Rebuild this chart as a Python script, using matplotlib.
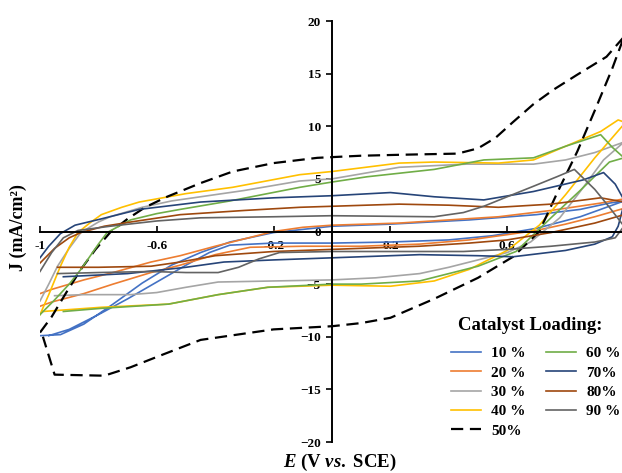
import matplotlib
matplotlib.use("Agg")
import matplotlib.pyplot as plt

plt.rcParams['font.family'] = ['Liberation Serif', 'DejaVu Serif']
plt.rcParams['font.weight'] = 'bold'
plt.rcParams['mathtext.fontset'] = 'custom'
plt.rcParams['mathtext.it'] = 'Liberation Serif:italic:bold'
plt.rcParams['mathtext.rm'] = 'Liberation Serif:bold'

# CV loops: forward scan (-1 -> 1) then reverse scan (1 -> -1)
e_10 = [-1.0, -0.93, -0.85, -0.75, -0.65, -0.55, -0.45, -0.35, -0.2, 0.0, 0.2, 0.47, 0.7, 0.85, 0.95, 1.0,
        1.0, 0.95, 0.85, 0.7, 0.55, 0.4, 0.2, 0.0, -0.2, -0.35, -0.42, -0.5, -0.6, -0.7, -0.8, -0.9, -0.97]
j_10 = [-9.9, -9.8, -8.8, -6.9, -4.9, -3.2, -2.0, -1.0, -0.1, 0.5, 0.7, 1.1, 1.6, 2.1, 2.7, 2.9,
        2.9, 2.4, 1.4, 0.3, -0.4, -0.8, -1.0, -1.1, -1.1, -1.3, -2.0, -3.2, -4.8, -6.4, -7.9, -9.3, -9.9]

e_20 = [-1.0, -0.96, -0.85, -0.75, -0.62, -0.52, -0.4, -0.3, -0.2, -0.1, 0.0, 0.23, 0.4, 0.57, 0.75, 0.92, 1.0,
        1.0, 0.9, 0.8, 0.7, 0.6, 0.47, 0.3, 0.1, -0.1, -0.28, -0.4, -0.52, -0.62, -0.75, -0.85, -0.96, -1.0]
j_20 = [-5.9, -5.5, -4.6, -3.9, -2.9, -2.3, -1.4, -0.7, 0.0, 0.4, 0.6, 0.8, 1.1, 1.4, 2.0, 2.7, 3.1,
        2.2, 1.4, 0.7, 0.1, -0.3, -0.8, -1.2, -1.4, -1.4, -1.5, -2.2, -3.2, -3.9, -5.0, -5.9, -6.7, -7.1]

e_30 = [-1.0, -0.97, -0.94, -0.9, -0.86, -0.8, -0.76, -0.65, -0.55, -0.45, -0.3, -0.11, 0.0, 0.23, 0.46, 0.69, 0.8, 0.9, 1.0,
        1.0, 0.93, 0.85, 0.78, 0.68, 0.6, 0.5, 0.4, 0.3, 0.15, 0.0, -0.2, -0.39, -0.5, -0.6, -0.69, -0.85, -0.95]
j_30 = [-6.6, -5.0, -3.3, -1.6, -0.1, 0.9, 1.4, 2.3, 2.9, 3.3, 3.9, 4.8, 5.0, 6.1, 6.4, 6.4, 6.8, 7.5, 8.5,
        8.5, 6.8, 3.8, 1.3, -1.0, -2.0, -2.7, -3.4, -4.0, -4.4, -4.6, -4.7, -4.8, -5.3, -5.8, -6.0, -6.0, -6.1]

e_40 = [-1.0, -0.97, -0.93, -0.9, -0.87, -0.83, -0.79, -0.72, -0.66, -0.5, -0.34, -0.11, 0.0, 0.23, 0.35, 0.57, 0.69, 0.8, 0.92, 0.98, 1.0,
        1.0, 0.9, 0.8, 0.71, 0.6, 0.47, 0.35, 0.2, 0.0, -0.22, -0.39, -0.56, -0.79, -0.99]
j_40 = [-7.9, -6.0, -3.3, -1.5, -0.1, 0.8, 1.6, 2.3, 2.8, 3.6, 4.2, 5.4, 5.7, 6.5, 6.6, 6.5, 6.8, 8.1, 9.5, 10.6, 10.4,
        10.2, 7.0, 3.5, 0.6, -1.8, -3.6, -4.7, -5.2, -5.1, -5.3, -6.0, -6.9, -7.2, -7.6]

e_50 = [-1.0, -0.96, -0.91, -0.86, -0.81, -0.76, -0.7, -0.64, -0.565, -0.45, -0.34, -0.2, -0.05, 0.1, 0.25, 0.43, 0.5, 0.56, 0.62, 0.69, 0.76, 0.84, 0.94, 1.0,
        0.96, 0.9, 0.84, 0.77, 0.71, 0.62, 0.5, 0.35, 0.2, 0.1, 0.0, -0.2, -0.45, -0.58, -0.69, -0.78, -0.95, -0.99]
j_50 = [-9.6, -8.1, -5.8, -3.6, -1.7, -0.1, 1.2, 2.3, 3.3, 4.6, 5.7, 6.5, 7.0, 7.2, 7.3, 7.4, 7.9, 8.9, 10.4, 12.1, 13.5, 14.9, 16.6, 18.5,
        15.5, 11.5, 7.6, 3.6, 0.0, -2.4, -4.4, -6.4, -8.2, -8.7, -9.0, -9.3, -10.3, -11.7, -12.9, -13.7, -13.6, -10.0]

e_60 = [-1.0, -0.95, -0.9, -0.86, -0.8, -0.77, -0.69, -0.6, -0.52, -0.35, -0.11, 0.0, 0.12, 0.35, 0.52, 0.69, 0.8, 0.92, 0.96, 1.0,
        1.0, 0.95, 0.85, 0.75, 0.63, 0.5, 0.3, 0.1, 0.0, -0.22, -0.39, -0.56, -0.79, -0.92]
j_60 = [-7.9, -6.5, -5.0, -3.6, -1.2, -0.1, 1.1, 1.7, 2.1, 2.9, 4.2, 4.7, 5.2, 5.9, 6.8, 7.0, 8.1, 9.2, 8.0, 7.0,
        7.0, 6.6, 3.9, 1.3, -1.9, -3.3, -4.7, -5.0, -5.0, -5.3, -6.0, -6.9, -7.3, -7.6]

e_70 = [-1.0, -0.97, -0.93, -0.88, -0.79, -0.66, -0.45, -0.2, 0.0, 0.2, 0.35, 0.52, 0.69, 0.86, 0.93, 0.97, 1.0,
        1.0, 0.98, 0.96, 0.9, 0.8, 0.62, 0.5, 0.3, 0.1, 0.0, -0.2, -0.37, -0.5, -0.7, -0.92]
j_70 = [-2.5, -1.4, -0.2, 0.6, 1.2, 2.1, 2.8, 3.2, 3.4, 3.7, 3.3, 3.0, 3.8, 4.9, 5.6, 4.5, 3.0,
        2.6, 0.5, -0.5, -1.2, -1.8, -2.4, -2.3, -2.2, -2.4, -2.5, -2.7, -2.9, -3.4, -4.0, -4.3]

e_80 = [-1.0, -0.95, -0.9, -0.86, -0.78, -0.69, -0.52, -0.3, -0.11, 0.23, 0.4, 0.57, 0.75, 0.92, 1.0,
        1.0, 0.9, 0.75, 0.6, 0.47, 0.3, 0.0, -0.2, -0.4, -0.52, -0.62, -0.8, -0.94]
j_80 = [-3.0, -1.6, -0.6, -0.1, 0.5, 0.9, 1.6, 2.0, 2.3, 2.6, 2.5, 2.3, 2.6, 3.2, 2.8,
        1.6, 0.8, -0.1, -0.8, -1.1, -1.4, -1.7, -1.9, -2.3, -2.9, -3.3, -3.4, -3.4]

e_90 = [-1.0, -0.96, -0.92, -0.87, -0.76, -0.6, -0.45, -0.2, 0.0, 0.35, 0.45, 0.52, 0.6, 0.69, 0.77, 0.83, 0.9, 0.95, 1.0,
        0.97, 0.9, 0.75, 0.6, 0.45, 0.2, 0.0, -0.18, -0.25, -0.32, -0.39, -0.5, -0.62, -0.8, -0.94]
j_90 = [-3.8, -2.0, -0.6, 0.1, 0.5, 1.0, 1.3, 1.4, 1.5, 1.4, 1.8, 2.4, 3.3, 4.3, 5.2, 5.9, 4.0, 2.3, 0.5,
        -0.6, -1.0, -1.4, -1.7, -1.9, -1.9, -1.9, -2.0, -2.6, -3.4, -3.9, -3.9, -3.8, -3.9, -4.0]

series = [
    ("10 %", e_10, j_10, "#4472C4"),
    ("20 %", e_20, j_20, "#ED7D31"),
    ("30 %", e_30, j_30, "#A5A5A5"),
    ("40 %", e_40, j_40, "#FFC000"),
    ("50%", e_50, j_50, "black"),
    ("60 %", e_60, j_60, "#70AD47"),
    ("70%", e_70, j_70, "#264478"),
    ("80%", e_80, j_80, "#9E480E"),
    ("90 %", e_90, j_90, "#636363"),
]

x_ticks = [-1, -0.6, -0.2, 0.2, 0.6, 1]
x_tick_labels = ["-1", "-0.6", "-0.2", "0.2", "0.6", "1"]
y_ticks = [-20, -15, -10, -5, 0, 5, 10, 15, 20]

fig = plt.figure(figsize=(6.22, 4.73), dpi=100)
ax = fig.add_axes([40 / 622, 31 / 473, 584 / 622, 421 / 473])

for label, e, j, c in series:
    if label == "50%":
        ax.plot(e, j, color=c, lw=1.6, dashes=(5.5, 3), label=label)
    else:
        ax.plot(e, j, color=c, lw=1.2, label=label)

ax.set_xlim(-1, 1)
ax.set_ylim(-20, 20)
ax.spines['left'].set_position(('data', 0))
ax.spines['bottom'].set_position(('data', 0))
ax.spines['top'].set_visible(False)
ax.spines['right'].set_visible(False)
for s in ('left', 'bottom'):
    ax.spines[s].set_linewidth(1.4)

ax.set_xticks(x_ticks)
ax.set_xticklabels(x_tick_labels)
ax.set_yticks(y_ticks)
ax.tick_params(axis='x', direction='in', length=4, width=1.2, pad=6, labelsize=9.5)
ax.tick_params(axis='y', direction='out', length=4, width=1.2, pad=4, labelsize=9.5)

fig.text(18 / 622, 1 - 228 / 473, "J (mA/cm²)", rotation=90, ha='center', va='center',
         fontsize=13, fontweight='bold')
fig.text(340 / 622, 1 - 462 / 473, r"$E$ (V $vs.$ SCE)", ha='center', va='center',
         fontsize=13.5, fontweight='bold')

# legend title drawn separately to match its spacing
fig.text(458 / 622, 1 - 325 / 473, "Catalyst Loading:", ha='left', va='center',
         fontsize=13.5, fontweight='bold')
leg = ax.legend(loc='upper left', bbox_to_anchor=(437 / 622, 1 - 333 / 473), bbox_transform=fig.transFigure,
                ncol=2, frameon=False, fontsize=11,
                handlelength=2.0, handletextpad=0.65, columnspacing=1.3, labelspacing=0.37)

fig.savefig("out.png", dpi=100)
